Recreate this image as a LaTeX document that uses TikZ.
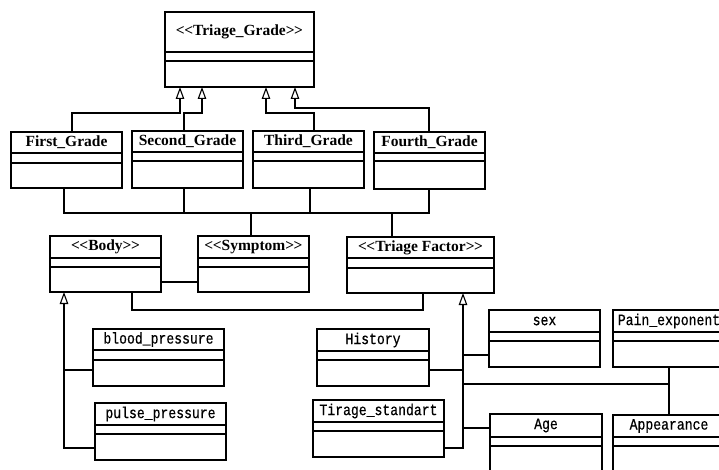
\documentclass[tikz,border=0pt]{standalone}
\usepackage{fontspec}
\setmainfont{Liberation Serif}
\newfontfamily\umlmono[FakeStretch=0.83, FakeBold=0.5]{Liberation Mono}
\usetikzlibrary{calc,arrows.meta}
\newcommand\bft{\fontsize{15.5}{15.5}\selectfont\bfseries}
\newcommand\mft{\fontsize{15.8}{15.8}\umlmono}
\newcommand\lt{<\kern-0.5pt<}
\newcommand\gt{>\kern-0.5pt>}
\newcommand\umlbox[8]{%
  \node[cls, minimum width=#4pt, minimum height=#5pt] (#1) at (#2,#3) {};
  \node[clstext] (#1-t) at ($(#1.north)+(0,#6/2)$) {#8};
  \draw[conn] ($(#1.north west)+(0,#6)$) -- ($(#1.north east)+(0,#6)$);
  \draw[conn] ($(#1.north west)+(0,#6+#7)$) -- ($(#1.north east)+(0,#6+#7)$);
}
\tikzset{
  x=1pt, y=-1pt,
  cls/.style={draw, line width=1.1pt, anchor=north west, inner sep=0pt, outer sep=0pt},
  clstext/.style={inner sep=0pt, anchor=center},
  conn/.style={line width=1.1pt},
  inh/.style={conn, -{Triangle[open, length=12pt, width=8.5pt, fill=white]}},
}
\begin{document}
\begin{tikzpicture}
\useasboundingbox (0,0) rectangle (719,470);
\clip (0,0) rectangle (719,470);
% classes
\umlbox{tg}{165}{12}{149}{75}{40}{9}{\bft \lt Triage\_Grade\gt}
\umlbox{first}{11}{132}{111}{56}{21}{10}{\bft First\_Grade}
\umlbox{second}{132}{131}{111}{57}{21}{9}{\bft Second\_Grade}
\umlbox{third}{253}{131}{111}{57}{21}{9}{\bft Third\_Grade}
\umlbox{fourth}{374}{132}{111}{57}{21}{8}{\bft Fourth\_Grade}
\umlbox{body}{50}{236}{111}{56}{22}{9}{\bft \lt Body\gt}
\umlbox{symptom}{198}{236}{111}{56}{22}{9}{\bft \lt Symptom\gt}
\umlbox{tf}{347}{237}{147}{56}{21}{10}{\bft \lt Triage Factor\gt}
\umlbox{blood}{93}{329}{131}{57}{21}{10}{\mft blood\_pressure}
\umlbox{pulse}{95}{403}{131}{57}{22}{9}{\mft pulse\_pressure}
\umlbox{history}{317}{329}{112}{57}{22}{9}{\mft History}
\umlbox{tirage}{313}{400}{131}{57}{22}{9}{\mft Tirage\_standart}
\umlbox{sex}{489}{310}{111}{57}{22}{9}{\mft sex}
\umlbox{pain}{613}{310}{112}{57}{22}{9}{\mft Pain\_exponent}
\umlbox{age}{490}{414}{112}{70}{23}{9}{\mft Age}
\umlbox{appearance}{613}{415}{112}{70}{22}{9}{\mft Appearance}
% generalisations to Triage_Grade
\coordinate (a1) at (180,113); \coordinate (k1) at (72,113);
\coordinate (a2) at (202,113); \coordinate (k2) at (184,113);
\coordinate (a3) at (266,113); \coordinate (k3) at (314,113);
\coordinate (a4) at (295,108); \coordinate (k4) at (429,108);
\draw[inh] (k1 |- first.north) -- (k1) -- (a1) -- (a1 |- tg.south);
\draw[inh] (k2 |- second.north) -- (k2) -- (a2) -- (a2 |- tg.south);
\draw[inh] (k3 |- third.north) -- (k3) -- (a3) -- (a3 |- tg.south);
\draw[inh] (k4 |- fourth.north) -- (k4) -- (a4) -- (a4 |- tg.south);
% bus under the grades
\coordinate (u1) at (64,213); \coordinate (u2) at (184,213);
\coordinate (u3) at (310,213); \coordinate (u4) at (429,213);
\coordinate (u5) at (251,213); \coordinate (u6) at (392,213);
\draw[conn] (first.south -| u1) -- (u1) -- (u4) -- (fourth.south -| u4);
\draw[conn] (second.south -| u2) -- (u2);
\draw[conn] (third.south -| u3) -- (u3);
\draw[conn] (u5) -- (symptom.north -| u5);
\draw[conn] (u6) -- (tf.north -| u6);
% body - symptom, body - triage factor
\coordinate (bs) at (180,282);
\draw[conn] (body.east |- bs) -- (symptom.west |- bs);
\coordinate (bt1) at (132,310); \coordinate (bt2) at (423,310);
\draw[conn] (body.south -| bt1) -- (bt1) -- (bt2) -- (tf.south -| bt2);
% body generalisations
\coordinate (bi) at (64,448); \coordinate (bi1) at (64,370);
\draw[inh] (pulse.west |- bi) -- (bi) -- (body.south -| bi);
\draw[conn] (blood.west |- bi1) -- (bi1);
% triage factor generalisations
\coordinate (ti) at (463,448); \coordinate (th) at (463,370);
\coordinate (ts) at (463,355); \coordinate (ta) at (463,428);
\coordinate (tp) at (463,384); \coordinate (tp2) at (669,384);
\draw[inh] (tirage.east |- ti) -- (ti) -- (tf.south -| ti);
\draw[conn] (history.east |- th) -- (th);
\draw[conn] (ts) -- (sex.west |- ts);
\draw[conn] (ta) -- (age.west |- ta);
\draw[conn] (tp) -- (tp2);
\draw[conn] (pain.south -| tp2) -- (appearance.north -| tp2);
\end{tikzpicture}
\end{document}
